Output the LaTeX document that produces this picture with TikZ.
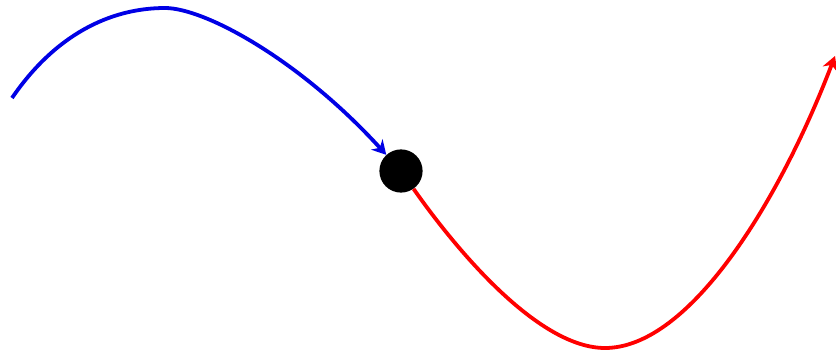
\documentclass[tikz,border=0pt]{standalone}
\usepackage{tikz}
\usetikzlibrary{arrows.meta}

\begin{document}
\begin{tikzpicture}[
    x=0.025cm,
    y=-0.025cm,
    before/.style={draw=blue!90!black, line width=2.7pt, -{Stealth[length=10pt,width=11pt]}},
    after/.style={draw=red, line width=2.7pt, -{Stealth[length=10pt,width=11pt]}},
    event/.style={circle, fill=black, inner sep=0pt, minimum size=1.08cm}
  ]
    \useasboundingbox (0,0) rectangle (836,354);
    \node[event] (dot) at (401,171) {};
    \coordinate (start) at (12,98);
    \coordinate (top) at (165,8);
    \coordinate (low) at (605,348);
    \coordinate (tip) at (835,56);

    \draw[before] (start) .. controls (55,35) and (110,8) .. (top)
                          .. controls (205,8) and (300,60) .. (dot);
    \draw[after] (dot) .. controls (460,255) and (540,348) .. (low)
                       .. controls (690,348) and (780,200) .. (tip);
  \end{tikzpicture}
\end{document}
